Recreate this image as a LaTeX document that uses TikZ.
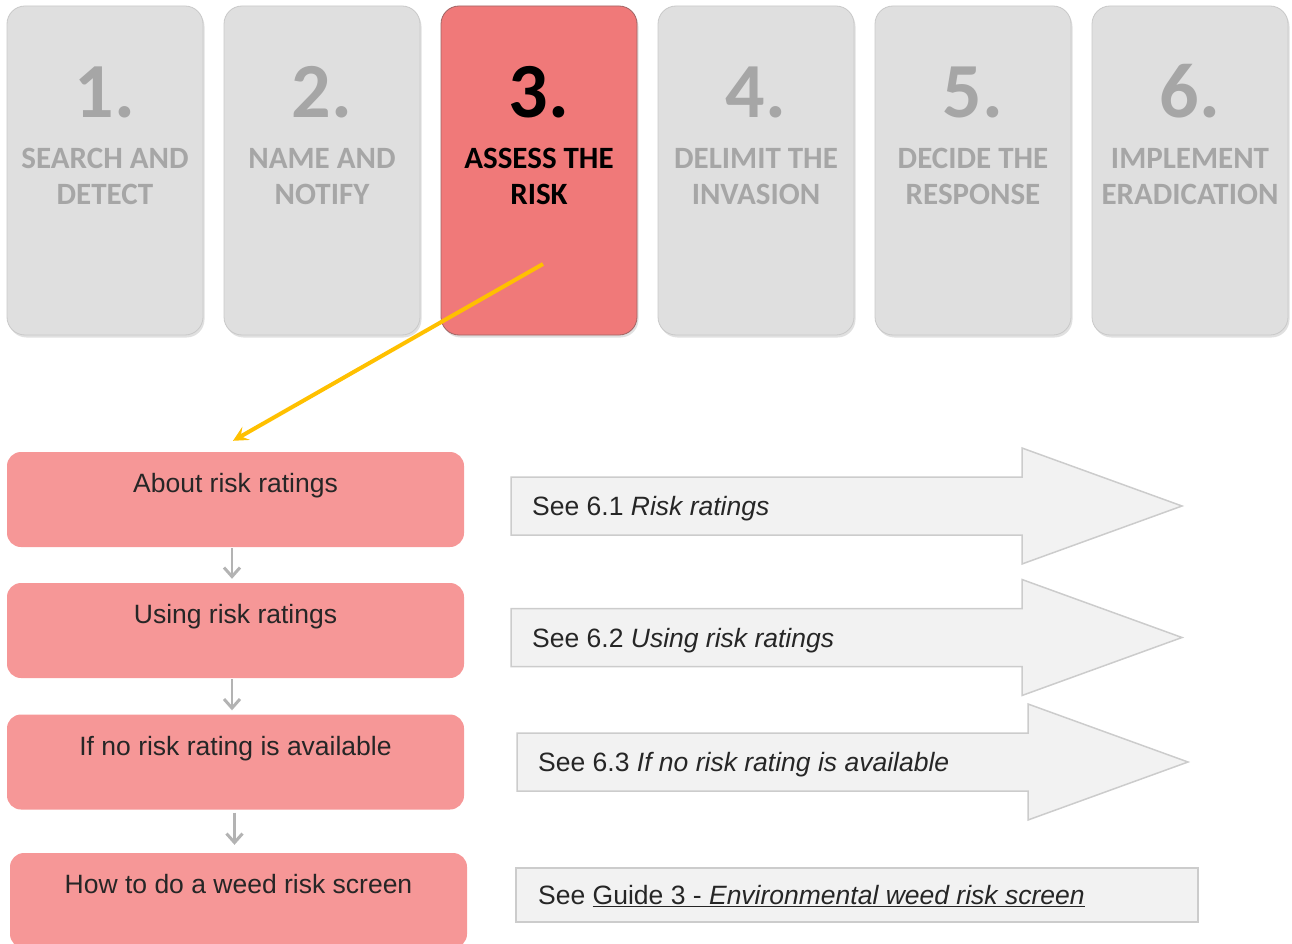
\documentclass[tikz,border=0pt]{standalone}
\usepackage{fontspec}
\setmainfont{Liberation Sans}
\newfontfamily\cardfont{Carlito}
\usetikzlibrary{arrows.meta,calc,shadows}
\definecolor{cardgray}{HTML}{DFDFDF}
\definecolor{cardborder}{HTML}{C9C9C9}
\definecolor{cardtext}{HTML}{A6A6A6}
\definecolor{activefill}{HTML}{F07979}
\definecolor{activeborder}{HTML}{A06464}
\definecolor{pinkbox}{HTML}{F69797}
\definecolor{darktext}{HTML}{262626}
\definecolor{seefill}{HTML}{F2F2F2}
\definecolor{seeborder}{HTML}{CCCCCC}
\definecolor{flowgray}{HTML}{B3B3B3}
\definecolor{orangeline}{HTML}{FFC000}
\begin{document}
\begin{tikzpicture}[x=1pt,y=-1pt,
  card/.style={rounded corners=18pt, minimum width=196pt, minimum height=329pt, inner sep=0pt,
    fill=cardgray, draw=cardborder, line width=0.8pt,
    drop shadow={shadow xshift=1.5pt, shadow yshift=-2.5pt, fill=black, opacity=0.12}},
  activecard/.style={card, fill=activefill, draw=activeborder},
  cardnum/.style={anchor=base, inner sep=0pt, text=cardtext, font=\cardfont\bfseries\fontsize{78}{80}\selectfont},
  cardlbl/.style={anchor=base, inner sep=0pt, text=cardtext, font=\cardfont\bfseries\fontsize{31}{33}\selectfont},
  activetext/.style={text=black},
  stepbox/.style={rounded corners=14pt, minimum width=457pt, minimum height=95pt, inner sep=0pt, fill=pinkbox},
  boxlbl/.style={anchor=base, inner sep=0pt, text=darktext, font=\fontsize{26.5}{30}\selectfont},
  seeshape/.style={fill=seefill, draw=seeborder, line width=1.5pt},
  seelbl/.style={anchor=base west, inner sep=0pt, text=darktext, font=\fontsize{26.5}{30}\selectfont},
  flow/.style={draw=flowgray, line width=2.4pt, -{Straight Barb[length=9pt,width=16pt,line width=3pt]}},
  pointer/.style={draw=orangeline, line width=4pt, -{Stealth[length=15pt,width=15pt,inset=6pt]}}
]
\useasboundingbox (0,0) rectangle (1292,944);

% top cards
\node[card] (c1) at (105,170.5) {};
\node[card] (c2) at (322,170.5) {};
\node[activecard] (c3) at (539,170.5) {};
\node[card] (c4) at (756,170.5) {};
\node[card] (c5) at (973,170.5) {};
\node[card] (c6) at (1190,170.5) {};

\node[cardnum] (n1) at ($(c1.north)+(0,112)$) {1.};
\node[cardlbl] (l1a) at ($(c1.north)+(0,163)$) {SEARCH AND};
\node[cardlbl] (l1b) at ($(c1.north)+(0,199)$) {DETECT};

\node[cardnum] (n2) at ($(c2.north)+(0,112)$) {2.};
\node[cardlbl] (l2a) at ($(c2.north)+(0,163)$) {NAME AND};
\node[cardlbl] (l2b) at ($(c2.north)+(0,199)$) {NOTIFY};

\node[cardnum, activetext] (n3) at ($(c3.north)+(0,112)$) {3.};
\node[cardlbl, activetext] (l3a) at ($(c3.north)+(0,163)$) {ASSESS THE};
\node[cardlbl, activetext] (l3b) at ($(c3.north)+(0,199)$) {RISK};

\node[cardnum] (n4) at ($(c4.north)+(0,112)$) {4.};
\node[cardlbl] (l4a) at ($(c4.north)+(0,163)$) {DELIMIT THE};
\node[cardlbl] (l4b) at ($(c4.north)+(0,199)$) {INVASION};

\node[cardnum] (n5) at ($(c5.north)+(0,112)$) {5.};
\node[cardlbl] (l5a) at ($(c5.north)+(0,163)$) {DECIDE THE};
\node[cardlbl] (l5b) at ($(c5.north)+(0,199)$) {RESPONSE};

\node[cardnum] (n6) at ($(c6.north)+(0,112)$) {6.};
\node[cardlbl] (l6a) at ($(c6.north)+(0,163)$) {IMPLEMENT};
\node[cardlbl] (l6b) at ($(c6.north)+(0,199)$) {ERADICATION};

% left boxes
\node[stepbox] (b1) at (235.5,499.5) {};
\node[stepbox] (b2) at (235.5,630.5) {};
\node[stepbox] (b3) at (235.5,762) {};
\node[stepbox] (b4) at (238.5,900.5) {};

\node[boxlbl] (t1) at ($(b1.north)+(0,41)$) {About risk ratings};
\node[boxlbl] (t2) at ($(b2.north)+(0,41)$) {Using risk ratings};
\node[boxlbl] (t3) at ($(b3.north)+(0,41)$) {If no risk rating is available};
\node[boxlbl] (t4) at ($(b4.north)+(0,41)$) {How to do a weed risk screen};

% orange pointer
\coordinate (ostart) at (543,264);
\coordinate (oend) at ($(b1.north)+(-2.5,-11)$);
\draw[pointer] (ostart) -- (oend);

% flow arrows
\draw[flow] ($(b1.south)+(-3.5,1)$) -- ($(b2.north)+(-3.5,-4)$);
\draw[flow] ($(b2.south)+(-3.5,1)$) -- ($(b3.north)+(-3.5,-4)$);
\draw[flow] ($(b3.south)+(-1,3)$) -- ($(b4.north)+(-4,-8)$);

% block arrows
\draw[seeshape] (511,477) -- (1022,477) -- (1022,448) -- (1182,506) -- (1022,564) -- (1022,535) -- (511,535) -- cycle;
\draw[seeshape] (511,608.5) -- (1022,608.5) -- (1022,579.5) -- (1182,637.5) -- (1022,695.5) -- (1022,666.5) -- (511,666.5) -- cycle;
\draw[seeshape] (517,733) -- (1028,733) -- (1028,704) -- (1188,762) -- (1028,820) -- (1028,791) -- (517,791) -- cycle;
\node[seeshape, minimum width=682pt, minimum height=54pt, inner sep=0pt] (r4) at (857,895) {};

\node[seelbl] (s1) at (532,515.5) {See 6.1 \textit{Risk ratings}};
\node[seelbl] (s2) at (532,647) {See 6.2 \textit{Using risk ratings}};
\node[seelbl] (s3) at (538,771.5) {See 6.3 \textit{If no risk rating is available}};
\node[seelbl] (s4) at (538,904.5) {See \underline{Guide 3 - \textit{Environmental weed risk screen}}};
\end{tikzpicture}
\end{document}
